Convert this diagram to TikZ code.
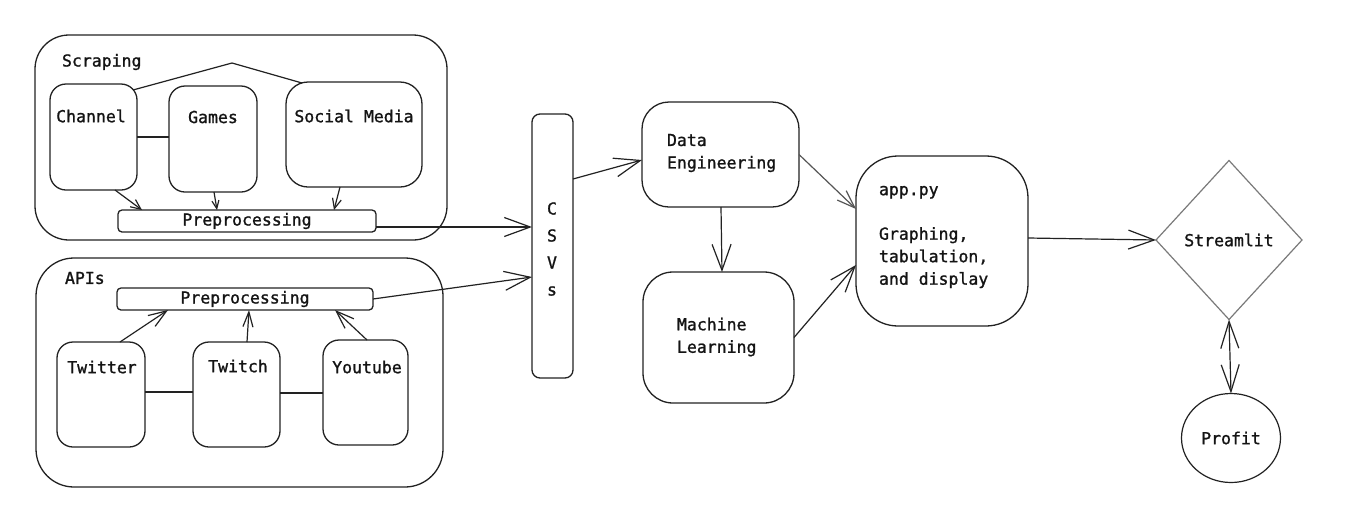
\documentclass[tikz,border=0pt]{standalone}
\usepackage{fontspec}
\newfontfamily\mono[FakeBold=1.2]{DejaVu Sans Mono}
\usetikzlibrary{arrows.meta,shapes.geometric}
\definecolor{ln}{HTML}{222222}
\definecolor{txt}{HTML}{141414}
\definecolor{gr}{HTML}{7A7A7A}
\definecolor{lg}{HTML}{555555}
\begin{document}
\begin{tikzpicture}[x=1pt,y=-1pt,
  every node/.style={inner sep=0pt, outer sep=0pt},
  box/.style={draw=ln, line width=1.3pt, anchor=north west, rounded corners=#1},
  box/.default=16pt,
  lbl/.style={font=\mono\fontsize{16.5}{22.5}\selectfont, text=txt},
  conn/.style={draw=ln, line width=1.2pt},
  arrS/.style={conn, -{Straight Barb[length=10pt,width=9pt]}},
  arrM/.style={conn, -{Straight Barb[length=18pt,width=13pt]}},
  arrL/.style={conn, -{Straight Barb[length=26pt,width=19pt]}},
  arrLL/.style={conn, {Straight Barb[length=27pt,width=18pt]}-{Straight Barb[length=27pt,width=18pt]}}
]
\useasboundingbox (0,0) rectangle (1350,531);
\fill[white] (0,0) rectangle (1350,531);

% Scraping group
\node[box=34pt, minimum width=412pt, minimum height=205pt] (scr) at (35,35) {};
\node[lbl, anchor=west] (scrl) at (62,62) {Scraping};
\node[box, minimum width=87pt, minimum height=106pt] (ch) at (50,84) {};
\node[box, minimum width=88pt, minimum height=106pt] (gm) at (169,86) {};
\node[box=22pt, minimum width=136pt, minimum height=105pt] (sm) at (286,82) {};
\node[lbl] (chl) at (91,116) {Channel};
\node[lbl] (gml) at (213,117) {Games};
\node[lbl] (sml) at (354,116) {Social Media};
\node[box=4pt, minimum width=258pt, minimum height=22pt, lbl] (pp1) at (118,210) {Preprocessing};

% APIs group
\node[box=38pt, minimum width=407pt, minimum height=229pt] (api) at (36,258) {};
\node[lbl, anchor=west] (apil) at (65,278) {APIs};
\node[box=4pt, minimum width=256pt, minimum height=22pt, lbl] (pp2) at (117,288) {Preprocessing};
\node[box, minimum width=88pt, minimum height=105pt] (tw) at (57,342) {};
\node[box, minimum width=87pt, minimum height=105pt] (tc) at (193,342) {};
\node[box, minimum width=85pt, minimum height=105pt] (yt) at (323,340) {};
\node[lbl] (twl) at (102,367) {Twitter};
\node[lbl] (tcl) at (238,366) {Twitch};
\node[lbl] (ytl) at (367,367) {Youtube};

% CSVs
\node[box=8pt, minimum width=41pt, minimum height=264pt] (csv) at (532,114) {};
\node[lbl, align=center, font=\mono\fontsize{16.5}{27}\selectfont] (csvl) at (552,249) {C\\S\\V\\s};

% Data engineering / ML
\node[box=27pt, minimum width=157pt, minimum height=105pt] (de) at (642,102) {};
\node[lbl, align=left, anchor=west] (del) at (667,153) {Data\\Engineering};
\node[box=30pt, minimum width=151pt, minimum height=131pt] (ml) at (643,272) {};
\node[lbl, align=left, anchor=west] (mll) at (677,337) {Machine\\Learning};

% app.py
\node[box=42pt, minimum width=172pt, minimum height=170pt] (app) at (856,156) {};
\node[lbl, align=left, anchor=west] (appl) at (879,237) {app.py\\[22pt]Graphing,\\tabulation,\\and display};

% Streamlit and Profit
\node[draw=gr, line width=1.2pt, diamond, minimum width=146pt, minimum height=159pt, lbl] (st) at (1229,240) {Streamlit};
\node[draw=ln, line width=1.2pt, ellipse, minimum width=99pt, minimum height=89pt, lbl] (pr) at (1231,438) {Profit};

% connectors inside Scraping
\coordinate (peak) at (232,63);
\draw[conn] ([xshift=-4pt,yshift=-6pt]ch.north east) -- (peak) -- ([xshift=16pt,yshift=-1pt]sm.north west);
\draw[conn] (ch.east) -- (ch.east -| gm.west);
\draw[arrS] ([xshift=21.5pt]ch.south) -- ([xshift=-105pt]pp1.north);
\draw[conn, -{Straight Barb[length=8pt,width=7pt]}] ([xshift=1pt]gm.south) -- ([xshift=-30pt]pp1.north);
\draw[arrS] ([xshift=-14pt]sm.south) -- ([xshift=87pt]pp1.north);

% connectors inside APIs
\draw[arrM] ([xshift=19pt]tw.north) -- ([xshift=-77pt]pp2.south);
\draw[conn, -{Straight Barb[length=15pt,width=10pt]}] ([xshift=10.5pt]tc.north) -- ([xshift=4pt]pp2.south);
\draw[arrM] ([xshift=1.5pt]yt.north) -- ([xshift=90pt]pp2.south);
\draw[conn] ([yshift=2.5pt]tw.east) -- ([yshift=2.5pt]tw.east -| tc.west);
\draw[conn] ([yshift=1.5pt]tc.east) -- ([yshift=1.5pt]tc.east -| yt.west);

% main flow
\draw[arrL] ([yshift=-6pt]pp1.east) -- ([yshift=-6pt]pp1.east -| csv.west);
\draw[arrL] (pp2.east) -- ([yshift=-31pt]csv.west);
\draw[arrL] ([yshift=67pt]csv.east) -- ([yshift=-5.5pt]de.west);
\draw[arrL] ([xshift=0.5pt]de.south) -- ([xshift=3.5pt]ml.north);
\draw[arrM, draw=lg] (de.east) -- ([yshift=32pt]app.west);
\draw[arrL] (ml.east) -- ([yshift=-24pt]app.west);
\draw[arrL] ([yshift=3pt]app.east) -- (st.west);
\draw[arrLL] (st.south) -- (pr.north);
\end{tikzpicture}
\end{document}
